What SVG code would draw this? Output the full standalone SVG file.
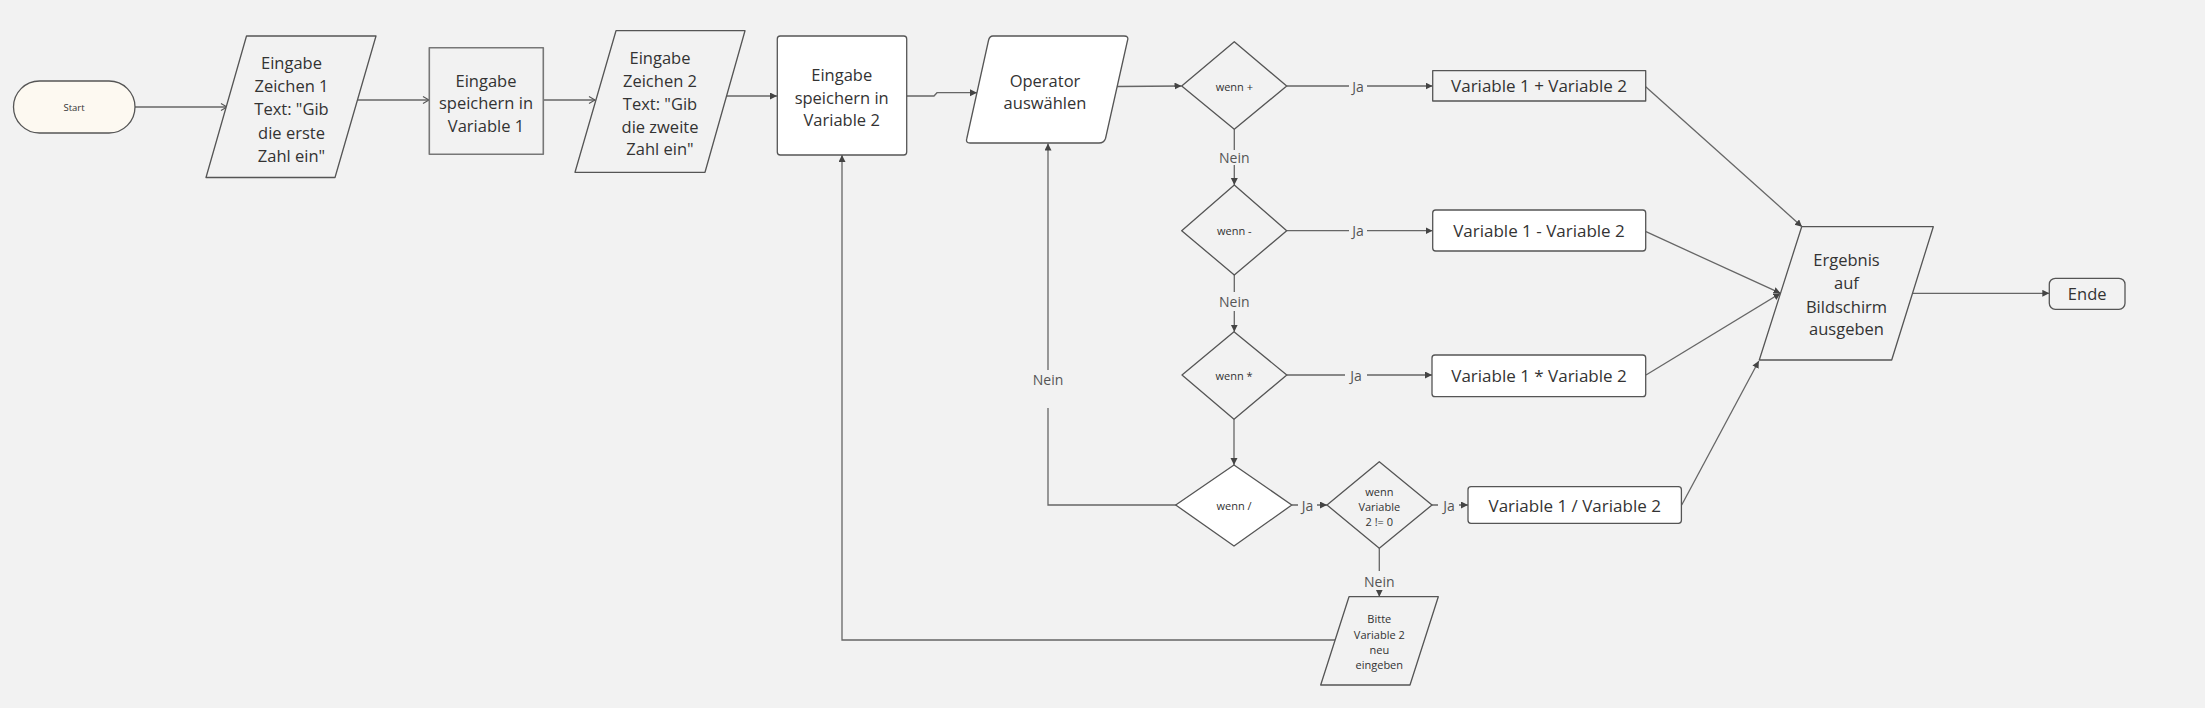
<svg xmlns="http://www.w3.org/2000/svg" width="2205" height="708" viewBox="0 0 2205 708">
<style>
text{font-family:"Open Sans","Noto Sans","Liberation Sans",sans-serif;fill:#333;text-anchor:middle;dominant-baseline:central}
.n{stroke:#555;stroke-width:1.3;stroke-linejoin:round}
.bg{fill:#f2f2f2}
.w{fill:#ffffff}
.big{font-size:16.5px}
.var{font-size:17px}
.sm{font-size:11px}
.lbl{font-size:14px;fill:#555}
.c{fill:none;stroke:#666;stroke-width:1.3}
</style>
<defs>
<marker id="af" markerUnits="userSpaceOnUse" markerWidth="8" markerHeight="8" refX="7" refY="3.5" orient="auto"><path d="M0,0 L7,3.5 L0,7 z" fill="#444"/></marker>
<marker id="ao" markerUnits="userSpaceOnUse" markerWidth="9" markerHeight="9" refX="7" refY="4" orient="auto"><path d="M1,0.5 L7,4 L1,7.5" fill="none" stroke="#555" stroke-width="1.1"/></marker>
</defs>
<rect x="0" y="0" width="2205" height="708" fill="#f2f2f2"/>

<g id="connectors">
<path class="c" d="M135,107 L227,107" marker-end="url(#ao)"/>
<path class="c" d="M358,100 L429,100" marker-end="url(#ao)"/>
<path class="c" d="M543,100 L595,100" marker-end="url(#ao)"/>
<path class="c" d="M726,96 L777,96" marker-end="url(#af)"/>
<path class="c" d="M907,96 L934,96 L937,92.7 L977,92.7" marker-end="url(#af)"/>
<path class="c" d="M1117,86.5 L1181.5,86" marker-end="url(#af)"/>
<path class="c" d="M1287,86 L1349,86 M1367,86 L1432.5,86" marker-end="url(#af)"/>
<path class="c" d="M1234.3,129.3 L1234.3,150 M1234.3,165 L1234.3,185" marker-end="url(#af)"/>
<path class="c" d="M1287,230.7 L1349,230.7 M1367,230.7 L1432.5,230.7" marker-end="url(#af)"/>
<path class="c" d="M1234.3,275 L1234.3,292 M1234.3,311 L1234.3,331.7" marker-end="url(#af)"/>
<path class="c" d="M1287,375 L1345,375 M1367,375 L1432,375" marker-end="url(#af)"/>
<path class="c" d="M1234,419.3 L1234,465" marker-end="url(#af)"/>
<path class="c" d="M1292,505 L1298,505 M1317,505 L1327,505" marker-end="url(#af)"/>
<path class="c" d="M1432,505 L1438,505 M1459,505 L1468,505" marker-end="url(#af)"/>
<path class="c" d="M1379.3,548.3 L1379.3,571 M1379.3,590 L1379.3,596.7" marker-end="url(#af)"/>
<path class="c" d="M1335,640 L842,640 L842,155" marker-end="url(#af)"/>
<path class="c" d="M1176,505 L1048,505 L1048,408 M1048,370 L1048,143.5" marker-end="url(#af)"/>
<path class="c" d="M1645.7,86.7 L1802,226.7" marker-end="url(#af)"/>
<path class="c" d="M1646,231.7 L1780.5,293.3" marker-end="url(#af)"/>
<path class="c" d="M1646,375 L1780.5,293.3" marker-end="url(#af)"/>
<path class="c" d="M1681.7,505 L1758.8,361" marker-end="url(#af)"/>
<path class="c" d="M1912.5,293.3 L2049.3,293.3" marker-end="url(#af)"/>
<text class="lbl" x="1358" y="86">Ja</text>
<text class="lbl" x="1234.3" y="157.5">Nein</text>
<text class="lbl" x="1358" y="230.7">Ja</text>
<text class="lbl" x="1234.3" y="301.7">Nein</text>
<text class="lbl" x="1356" y="375">Ja</text>
<text class="lbl" x="1307.5" y="505">Ja</text>
<text class="lbl" x="1449" y="505">Ja</text>
<text class="lbl" x="1379.3" y="581.7">Nein</text>
<text class="lbl" x="1048" y="379.3">Nein</text>
</g>

<g id="start">
<rect class="n" x="13.5" y="81" width="121.5" height="52" rx="26" fill="#fdf9f1"/>
<text x="74" y="107" style="font-size:9.5px">Start</text>
</g>

<g id="eingabe1">
<polygon class="n bg" points="246.5,36 376,36 335,177.5 206,177.5"/>
<text class="big" x="291.5"><tspan x="291.5" y="61.7">Eingabe</tspan><tspan x="291.5" y="85">Zeichen 1</tspan><tspan x="291.5" y="108.3">Text: "Gib</tspan><tspan x="291.5" y="131.7">die erste</tspan><tspan x="291.5" y="155">Zahl ein"</tspan></text>
</g>

<g id="speichern1">
<rect class="n bg" x="429.3" y="47.7" width="114" height="106.6" style="stroke:#777;stroke-width:1.6"/>
<text class="big"><tspan x="486" y="80">Eingabe</tspan><tspan x="486" y="102.3">speichern in</tspan><tspan x="486" y="125">Variable 1</tspan></text>
</g>

<g id="eingabe2">
<polygon class="n bg" points="616,30.7 745,30.7 705,172.3 575,172.3"/>
<text class="big"><tspan x="660" y="56.7">Eingabe</tspan><tspan x="660" y="80">Zeichen 2</tspan><tspan x="660" y="103.3">Text: "Gib</tspan><tspan x="660" y="126">die zweite</tspan><tspan x="660" y="148.3">Zahl ein"</tspan></text>
</g>

<g id="speichern2">
<rect class="n w" x="777.3" y="36" width="129.4" height="119" rx="3"/>
<text class="big"><tspan x="841.7" y="74">Eingabe</tspan><tspan x="841.7" y="96.7">speichern in</tspan><tspan x="841.7" y="119.3">Variable 2</tspan></text>
</g>

<g id="operator">
<path class="n w" d="M993,36 L1124,36 Q1129,36 1127.5,40.5 L1105.5,138.5 Q1104,143 1099,143 L970,143 Q965.5,143 966.8,138.5 L988.5,40.5 Q989.5,36 993,36 Z"/>
<text class="big"><tspan x="1045" y="80">Operator</tspan><tspan x="1045" y="101.7">auswählen</tspan></text>
</g>

<g id="wenn-plus">
<polygon class="n bg" points="1181.7,86 1234.3,41.7 1286.7,86 1234.3,129.3"/>
<text class="sm" x="1234.3" y="86">wenn +</text>
</g>

<g id="wenn-minus">
<polygon class="n bg" points="1181.7,230.7 1234.3,185 1286.7,230.7 1234.3,275"/>
<text class="sm" x="1234.3" y="230.7">wenn -</text>
</g>

<g id="wenn-mal">
<polygon class="n bg" points="1182,375 1234,331.7 1286.8,375 1234,419.3"/>
<text class="sm" x="1234" y="375">wenn *</text>
</g>

<g id="wenn-geteilt">
<polygon class="n w" points="1175.7,505 1234,465 1291.8,505 1234,546"/>
<text class="sm" x="1234" y="505">wenn /</text>
</g>

<g id="wenn-nicht-null">
<polygon class="n bg" points="1327,505 1379.3,461.7 1432,505 1379.3,548.3"/>
<text class="sm"><tspan x="1379.3" y="491">wenn</tspan><tspan x="1379.3" y="506">Variable</tspan><tspan x="1379.3" y="521">2 != 0</tspan></text>
</g>

<g id="plus">
<rect class="n bg" x="1432.7" y="70.7" width="213" height="30.3"/>
<text class="var" x="1539" y="85.5">Variable 1 + Variable 2</text>
</g>

<g id="minus">
<rect class="n w" x="1432.7" y="210" width="213" height="41" rx="3"/>
<text class="var" x="1539" y="230.7">Variable 1 - Variable 2</text>
</g>

<g id="mal">
<rect class="n w" x="1432" y="355" width="213.7" height="41.7" rx="3"/>
<text class="var" x="1539" y="375.8">Variable 1 * Variable 2</text>
</g>

<g id="geteilt">
<rect class="n w" x="1468" y="486.7" width="213.4" height="36.6" rx="3"/>
<text class="var" x="1574.7" y="505">Variable 1 / Variable 2</text>
</g>

<g id="ausgabe">
<polygon class="n bg" points="1801.7,226.7 1933.3,226.7 1891.7,360 1759.3,360"/>
<text class="big"><tspan x="1846.5" y="259.3">Ergebnis</tspan><tspan x="1846.5" y="282">auf</tspan><tspan x="1846.5" y="305.5">Bildschirm</tspan><tspan x="1846.5" y="328.3">ausgeben</tspan></text>
</g>

<g id="bitte">
<polygon class="n bg" points="1349,596.7 1438.3,596.7 1410,685 1320.7,685"/>
<text class="sm"><tspan x="1379.3" y="618.3">Bitte</tspan><tspan x="1379.3" y="633.5">Variable 2</tspan><tspan x="1379.3" y="649">neu</tspan><tspan x="1379.3" y="664.3">eingeben</tspan></text>
</g>

<g id="ende">
<rect class="n bg" x="2049.3" y="278.3" width="75.7" height="31" rx="6"/>
<text class="big" x="2087.2" y="293.5">Ende</text>
</g>
</svg>
